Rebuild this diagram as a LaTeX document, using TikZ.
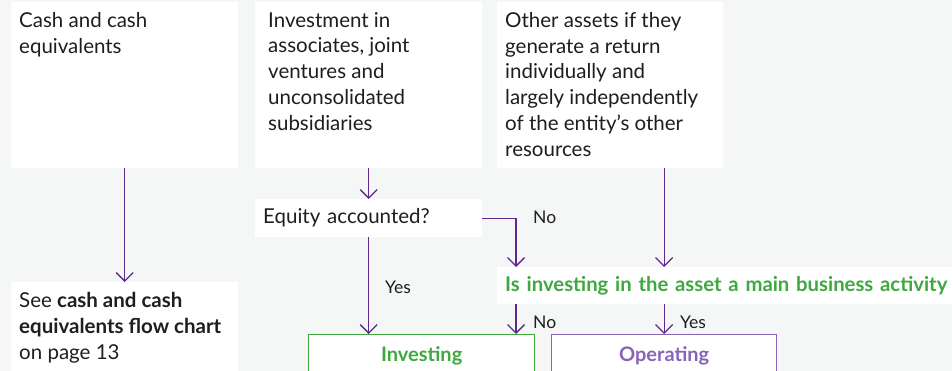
\documentclass[tikz,border=0pt]{standalone}
\usepackage{fontspec}
\setmainfont{Lato}
\usetikzlibrary{arrows.meta,positioning}
\definecolor{bgcol}{HTML}{F5F7F7}
\definecolor{arrcol}{HTML}{5C2A8E}
\definecolor{grn}{HTML}{3FA83F}
\definecolor{lilac}{HTML}{8863B8}
\definecolor{ink}{HTML}{1E1E1E}
\tikzset{
  panel/.style={fill=white, inner sep=0pt, anchor=north west},
  body/.style={inner sep=0pt, anchor=north west, align=left, text=ink,
    font=\fontsize{20.5}{25.8}\selectfont},
  flow/.style={draw=arrcol, line width=1.3pt, -{Straight Barb[length=8.5pt,width=17pt]}},
  tag/.style={inner sep=0pt, anchor=west, text=ink, font=\fontsize{17.5}{20}\selectfont},
  result/.style={fill=white, line width=1.3pt, anchor=north west, inner sep=0pt,
    font=\fontsize{20}{24}\selectfont\bfseries}
}
\begin{document}
\begin{tikzpicture}[x=1pt,y=-1pt]
      \fill[bgcol] (0,0) rectangle (952,371);
      \useasboundingbox (0,0) rectangle (952,371);
      % top row of white boxes
      \node[panel, minimum width=227, minimum height=166] (cash) at (11,2) {};
      \node[panel, minimum width=227, minimum height=166] (inv) at (255,2) {};
      \node[panel, minimum width=226, minimum height=166] (oth) at (497,2) {};
      \node[body] at (19,12) {Cash and cash\\equivalents};
      \node[body] at (268,12) {Investment in\\associates, joint\\ventures and\\unconsolidated\\subsidiaries};
      \node[body] at (505,12) {Other assets if they\\generate a return\\individually and\\largely independently\\of the entity’s other\\resources};
      % questions
      \node[panel, minimum width=227, minimum height=38, text=ink, align=left,
        inner xsep=8pt, text width=211, font=\fontsize{20.5}{24}\selectfont] (eq) at (255,199) {Equity accounted?};
      \node[panel, minimum width=455, minimum height=37, text=grn, align=left,
        inner xsep=8pt, text width=460, font=\fontsize{20.3}{24}\selectfont\bfseries] (q) at (497,267)
        {Is investing in the asset a main business activity};
      % bottom row
      \node[panel, minimum width=227, minimum height=95] (see) at (11,282) {};
      \node[body] at (19,292) {See \textbf{cash and cash}\\\textbf{equivalents flow chart}\\on page 13};
      \node[result, draw=grn, text=grn, minimum width=226, minimum height=42] (invest) at (308,334) {Investing};
      \node[result, draw=lilac, text=lilac, minimum width=225, minimum height=42] (oper) at (551,334) {Operating};
      \coordinate (split) at (516,218);
      % connectors
      \begin{scope}[flow]
        \draw (cash.south) to (see.north);
        \draw (inv.south) to (eq.north);
        \draw (eq.south) to (eq.south |- invest.north);
        \draw (eq.east) -| (q.north -| split);
        \draw (oth.south -| oper.north) to (q.north -| oper.north);
        \draw (q.south -| split) to (invest.north -| split);
        \draw (q.south -| oper.north) to (oper.north);
      \end{scope}
      \node[tag] (yes1) at (385,287) {Yes};
      \node[tag] (no1) at (533,217) {No};
      \node[tag] (no2) at (533,322) {No};
      \node[tag] (yes2) at (680,322) {Yes};
    \end{tikzpicture}
\end{document}
